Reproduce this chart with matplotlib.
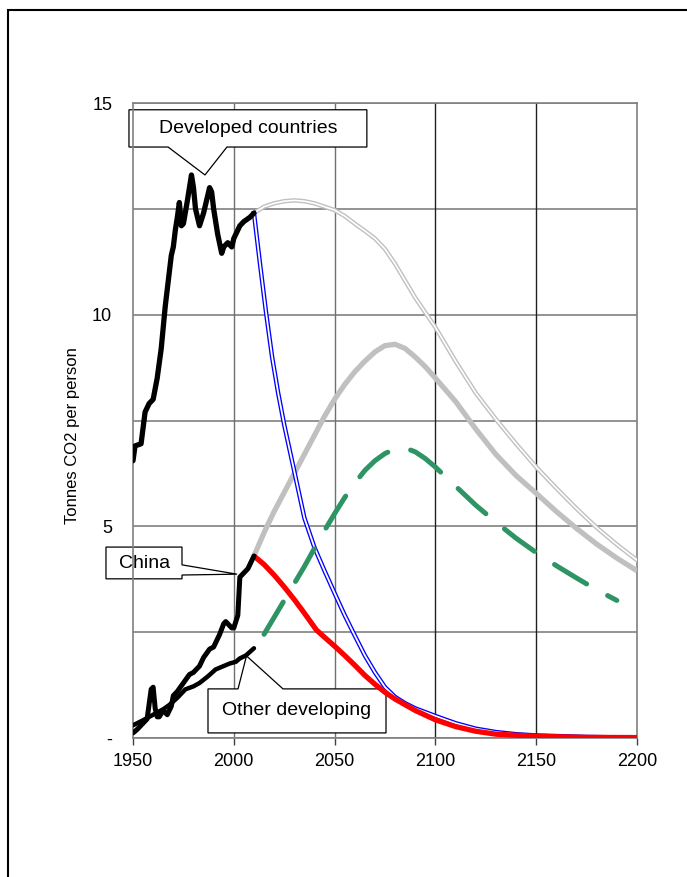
import numpy as np
import matplotlib
matplotlib.use("Agg")
import matplotlib.pyplot as plt
from matplotlib.patches import Polygon, Rectangle

plt.rcParams['font.family'] = ['Liberation Sans', 'DejaVu Sans']

# historical series
dev_years = [1950, 1951, 1954, 1956, 1958, 1960, 1962, 1964, 1966, 1967, 1969, 1970,
             1971, 1972, 1973, 1974, 1975, 1977, 1979, 1980, 1981, 1983, 1985, 1986,
             1988, 1989, 1990, 1992, 1994, 1995, 1997, 1999, 2000, 2001, 2003, 2005,
             2008, 2010]
dev_vals = [6.55, 6.9, 6.95, 7.7, 7.9, 8.0, 8.5, 9.2, 10.2, 10.6, 11.4, 11.6,
            12.0, 12.3, 12.65, 12.1, 12.15, 12.7, 13.3, 13.0, 12.5, 12.1, 12.4, 12.6,
            13.0, 12.9, 12.5, 11.9, 11.45, 11.6, 11.7, 11.6, 11.8, 11.9, 12.1, 12.2,
            12.3, 12.4]

china_years = [1950, 1952, 1955, 1957, 1958, 1959, 1960, 1961, 1962, 1963, 1965, 1967,
               1969, 1970, 1972, 1975, 1978, 1980, 1983, 1985, 1988, 1990, 1993, 1995,
               1996, 1997, 1999, 2000, 2001, 2002, 2003, 2005, 2007, 2010]
china_vals = [0.12, 0.2, 0.35, 0.45, 0.8, 1.15, 1.2, 0.7, 0.5, 0.5, 0.65, 0.55,
              0.75, 1.0, 1.1, 1.3, 1.5, 1.55, 1.7, 1.9, 2.1, 2.15, 2.45, 2.7,
              2.75, 2.7, 2.6, 2.6, 2.75, 2.9, 3.8, 3.9, 4.0, 4.3]

oth_years = [1950, 1955, 1960, 1965, 1968, 1972, 1976, 1980, 1983, 1987, 1991, 1995,
             1998, 2001, 2003, 2006, 2010]
oth_vals = [0.3, 0.42, 0.55, 0.68, 0.78, 0.95, 1.15, 1.22, 1.3, 1.45, 1.62, 1.7,
            1.76, 1.8, 1.88, 1.95, 2.12]

# projections
dev_bau_years = [2010, 2015, 2020, 2025, 2030, 2035, 2040, 2045, 2050, 2055, 2060, 2065,
                 2070, 2075, 2080, 2085, 2090, 2095, 2100, 2105, 2110, 2120, 2130, 2140,
                 2150, 2160, 2170, 2180, 2190, 2200]
dev_bau_vals = [12.4, 12.55, 12.63, 12.68, 12.7, 12.68, 12.63, 12.55, 12.47, 12.33, 12.15, 11.98,
                11.8, 11.55, 11.2, 10.8, 10.4, 10.05, 9.7, 9.3, 8.9, 8.15, 7.53, 6.95,
                6.4, 5.9, 5.42, 4.97, 4.57, 4.2]

china_bau_years = [2010, 2015, 2020, 2025, 2030, 2035, 2040, 2045, 2050, 2055, 2060, 2065,
                   2070, 2075, 2080, 2085, 2090, 2095, 2100, 2110, 2120, 2130, 2140, 2150,
                   2160, 2170, 2180, 2190, 2200]
china_bau_vals = [4.3, 4.85, 5.35, 5.8, 6.25, 6.7, 7.15, 7.6, 8.0, 8.35, 8.65, 8.9,
                  9.12, 9.27, 9.3, 9.2, 9.0, 8.77, 8.5, 7.95, 7.3, 6.7, 6.2, 5.78,
                  5.35, 4.95, 4.58, 4.25, 3.95]

oth_bau_years = [2015, 2020, 2025, 2030, 2035, 2040, 2045, 2050, 2055, 2060, 2065, 2070,
                 2075, 2080, 2085, 2090, 2095, 2100, 2105, 2110, 2120, 2130, 2140, 2150,
                 2160, 2170, 2180, 2190]
oth_bau_vals = [2.45, 2.85, 3.25, 3.65, 4.05, 4.48, 4.9, 5.3, 5.68, 6.02, 6.32, 6.55,
                6.72, 6.83, 6.85, 6.76, 6.6, 6.4, 6.17, 5.95, 5.5, 5.1, 4.72, 4.38,
                4.07, 3.78, 3.5, 3.25]

dev_cut_years = [2010, 2013, 2016, 2019, 2022, 2025, 2030, 2035, 2040, 2045, 2050, 2055,
                 2060, 2065, 2070, 2075, 2080, 2085, 2090, 2100, 2110, 2120, 2130, 2140,
                 2150, 2175, 2200]
dev_cut_vals = [12.4, 11.2, 10.05, 9.0, 8.15, 7.4, 6.3, 5.2, 4.5, 3.95, 3.42, 2.9,
                2.42, 1.95, 1.55, 1.2, 0.97, 0.82, 0.7, 0.52, 0.35, 0.22, 0.14, 0.09,
                0.06, 0.025, 0.01]

china_cut_years = [2010, 2015, 2020, 2025, 2030, 2035, 2041, 2045, 2050, 2055, 2060, 2065,
                   2070, 2075, 2080, 2090, 2100, 2110, 2120, 2130, 2150, 2175, 2200]
china_cut_vals = [4.3, 4.1, 3.85, 3.57, 3.27, 2.95, 2.55, 2.38, 2.17, 1.95, 1.72, 1.48,
                  1.27, 1.08, 0.92, 0.65, 0.43, 0.27, 0.16, 0.09, 0.04, 0.015, 0.01]

fig = plt.figure(figsize=(6.87, 8.77), dpi=100)
ax = fig.add_axes([133/687, 139/877, 504/687, 635/877])

# projections first
ax.plot(dev_bau_years, dev_bau_vals, color='#c0c0c0', lw=3.2, zorder=3)
ax.plot(dev_bau_years, dev_bau_vals, color='white', lw=1.2, zorder=3.1)
ax.plot(china_bau_years, china_bau_vals, color='#c0c0c0', lw=3.8, zorder=3.2,
        solid_capstyle='butt')
ax.plot(dev_cut_years, dev_cut_vals, color='#0000ff', lw=3.2, zorder=3.3)
ax.plot(dev_cut_years, dev_cut_vals, color='white', lw=1.3, zorder=3.4)
ax.plot(china_cut_years, china_cut_vals, color='#ff0000', lw=3.8, zorder=3.5,
        solid_capstyle='butt')
ax.plot(oth_bau_years, oth_bau_vals, color='#2e9464', lw=3.6, zorder=3.6,
        dashes=(7.5, 4.8), dash_capstyle='round')

# history
ax.plot(dev_years, dev_vals, color='black', lw=3.8, zorder=4,
        solid_joinstyle='round', solid_capstyle='round')
ax.plot(china_years, china_vals, color='black', lw=3.6, zorder=4,
        solid_joinstyle='round', solid_capstyle='round')
ax.plot(oth_years, oth_vals, color='black', lw=3.2, zorder=4,
        solid_joinstyle='round', solid_capstyle='round')

ax.set_xlim(1950, 2200)
ax.set_ylim(0, 15)
ax.set_xticks([1950, 2000, 2050, 2100, 2150, 2200])
ax.set_yticks([0, 5, 10, 15])
ax.set_yticklabels(['-', '5', '10', '15'])
ax.set_yticks([2.5, 7.5, 12.5], minor=True)
ax.tick_params(axis='x', direction='out', length=5, width=1, color='#404040',
               labelsize=13, pad=6)
ax.tick_params(axis='y', length=0, labelsize=13, pad=15)
ax.tick_params(axis='y', which='minor', length=0)
ax.grid(True, which='both', axis='y', color='#808080', lw=1.2)
for x in [2000, 2050]:
    ax.axvline(x, color='#707070', lw=1, zorder=1)
for x in [2100, 2150]:
    ax.axvline(x, color='#202020', lw=1, zorder=1)
for s in ax.spines.values():
    s.set_color('#808080')
    s.set_linewidth(1.2)
ax.set_axisbelow(True)

ax.set_ylabel('Tonnes CO2 per person', fontsize=12)
ax.yaxis.set_label_coords(-0.105, 0.476)

# callouts
callouts = [
    ('Developed countries', (2007, 14.4),
     [(1948, 14.84), (2066, 14.84), (2066, 13.96), (1996.6, 13.96), (1985.7, 13.3),
      (1967.4, 13.96), (1948, 13.96)]),
    ('China', (1955.5, 4.13),
     [(1936.6, 4.51), (1974.3, 4.51), (1974.3, 4.09), (2001.6, 3.87), (1974.3, 3.85),
      (1974.3, 3.76), (1936.6, 3.76)]),
    ('Other developing', (2031.3, 0.64),
     [(1987.2, 1.16), (2002.1, 1.16), (2006.3, 1.94), (2024.4, 1.16), (2075.5, 1.16),
      (2075.5, 0.12), (1987.2, 0.12)]),
]
for label, pos, verts in callouts:
    ax.add_patch(Polygon(verts, closed=True, facecolor='white', edgecolor='black',
                         lw=0.9, zorder=2.5, clip_on=False, joinstyle='miter'))
    ax.text(pos[0], pos[1], label, ha='center', va='center', fontsize=14, zorder=2.6)

# outer frame
fig.patches.append(Rectangle((8/687, -0.1), 2, 1 - 10/877 + 0.1, transform=fig.transFigure,
                             fill=False, ec='black', lw=1.5))

fig.savefig('out.png', dpi=100)
